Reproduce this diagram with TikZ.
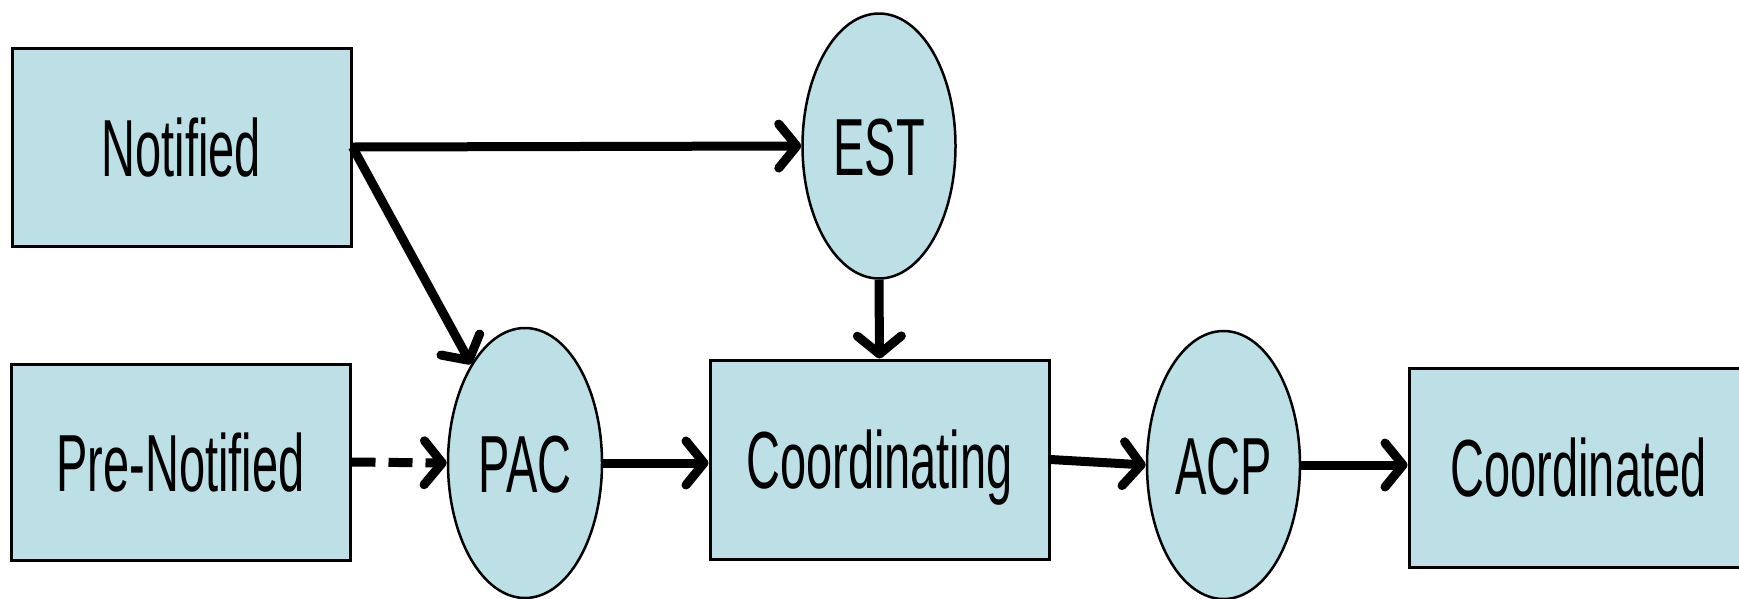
\documentclass[tikz,border=0pt]{standalone}
\usepackage{fontspec}
\setmainfont{Liberation Sans}[FakeStretch=0.58]
\usetikzlibrary{shapes.geometric,arrows.meta}
\definecolor{boxfill}{RGB}{188,224,229}
\tikzset{
  statebox/.style={draw=black, line width=3pt, fill=boxfill, rectangle,
    minimum width=339pt, inner sep=0pt, text height=58pt, text depth=0pt,
    font=\fontsize{81}{90}\selectfont},
  stateoval/.style={draw=black, line width=2.5pt, fill=boxfill, ellipse,
    inner sep=0pt, text height=58pt, text depth=0pt,
    font=\fontsize{81}{90}\selectfont},
  flow/.style={line width=9pt, -{Straight Barb[length=18pt,width=44pt,round]}},
  dflow/.style={flow, dash pattern=on 24pt off 13pt}
}
\begin{document}
\begin{tikzpicture}[x=1pt,y=-1pt]
\useasboundingbox (0,0) rectangle (1739,598);
\clip (0,0) rectangle (1739,598);
\node[statebox, minimum height=198pt] (N) at (181.5,147) {Notified};
\node[statebox, minimum height=196pt] (PN) at (180.5,462) {Pre-Notified};
\node[stateoval, minimum width=153pt, minimum height=265pt] (EST) at (879,146) {EST};
\node[stateoval, minimum width=154pt, minimum height=270pt] (PAC) at (525,463) {PAC};
\node[statebox, minimum height=199pt] (C) at (879.5,459.5) {Coordinating};
\node[stateoval, minimum width=153pt, minimum height=268pt] (ACP) at (1223.5,465) {ACP};
\node[statebox, minimum height=199pt] (CD) at (1578.5,467.5) {Coordinated};
\draw[flow] (N.east) -- (EST.west);
\draw[flow] (N.east) -- (PAC);
\draw[dflow] (PN.east) -- (PAC.west);
\draw[flow] (PAC.east) -- (C.west |- PAC.east);
\draw[flow] (EST.south) -- (C.north);
\draw[flow] (C.east) -- (ACP.west);
\draw[flow] (ACP.east) -- (CD.west |- ACP.east);
\end{tikzpicture}
\end{document}
